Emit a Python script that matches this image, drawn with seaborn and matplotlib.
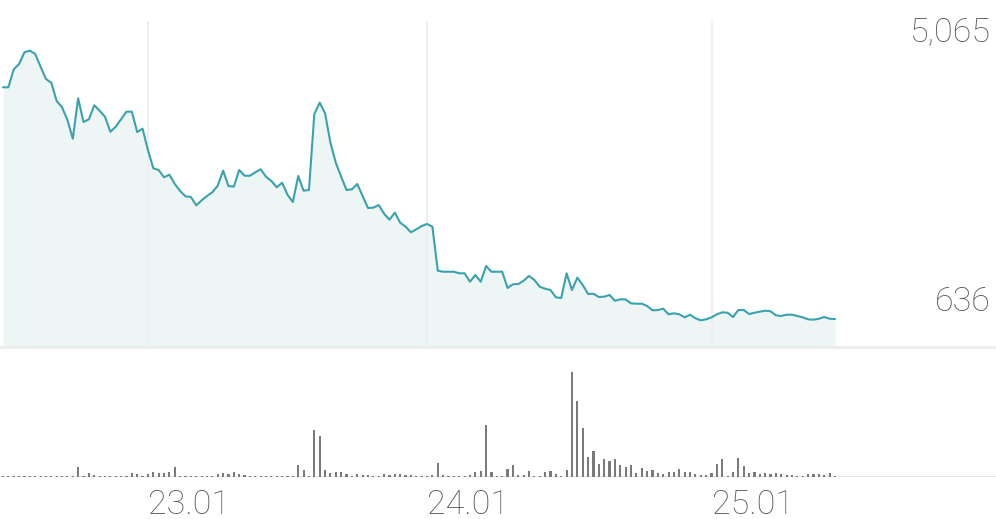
import numpy as np
import pandas as pd
import matplotlib.pyplot as plt
import seaborn as sns

# Plain white style, Roboto text
sns.set_style("white")
plt.rcParams['font.family'] = ['Roboto', 'DejaVu Sans']

# ---- data ----
price = [4464, 4464, 4759, 4847, 5039, 5065, 5011, 4802, 4600, 4539,
         4239, 4135, 3927, 3619, 4283, 3894, 3938, 4168, 4079, 3981,
         3734, 3816, 3938, 4063, 4063, 3729, 3784, 3434, 3133, 3105,
         2985, 3028, 2875, 2760, 2673, 2662, 2525, 2607, 2678, 2739,
         2847, 3094, 2842, 2831, 3105, 3011, 3011, 3067, 3117, 2995,
         2924, 2821, 2896, 2699, 2579, 3007, 2765, 2777, 4025, 4211,
         4037, 3554, 3225, 2995, 2777, 2788, 2875, 2678, 2481, 2486,
         2530, 2387, 2289, 2404, 2239, 2174, 2082, 2131, 2185, 2218,
         2174, 1451, 1434, 1434, 1434, 1408, 1408, 1270, 1380, 1270,
         1528, 1434, 1434, 1434, 1167, 1227, 1232, 1287, 1364, 1298,
         1188, 1155, 1134, 1014, 1002, 1408, 1134, 1336, 1216, 1068,
         1073, 1019, 1024, 1052, 958, 981, 978, 915, 909, 909,
         871, 800, 805, 827, 735, 751, 735, 685, 728, 669,
         636, 652, 685, 735, 767, 761, 690, 805, 805, 739,
         761, 777, 794, 784, 718, 707, 728, 728, 707, 685,
         652, 646, 662, 690, 662, 657]

volume = [0.7, 0.7, 0.7, 0.7, 0.7, 0.7, 0.7, 0.7, 0.7, 0.7,
          0.7, 0.7, 0.7, 0.7, 9.7, 0.7, 3.7, 2.3, 0.7, 0.7,
          0.7, 0.7, 0.7, 0.7, 3.7, 3.3, 0.7, 3.3, 4.7, 4.3,
          3.7, 5.0, 9.7, 1.3, 1.0, 1.0, 1.0, 1.0, 1.0, 1.0,
          2.7, 3.7, 3.0, 4.7, 2.7, 2.0, 0.7, 1.3, 0.7, 1.0,
          1.3, 0.7, 0.7, 0.7, 0.7, 11.7, 7.3, 1.3, 46.7, 40.7,
          6.7, 4.3, 5.3, 5.0, 3.0, 1.3, 3.0, 1.7, 2.0, 1.0,
          0.7, 2.7, 2.0, 2.7, 2.7, 1.7, 1.7, 1.0, 0.7, 1.0,
          2.0, 14.3, 2.0, 1.3, 0.7, 0.7, 0.7, 2.0, 5.3, 6.0,
          52.0, 5.0, 0.7, 0.7, 7.7, 12.0, 2.0, 2.0, 6.0, 1.3,
          1.3, 4.7, 6.0, 2.7, 1.0, 7.0, 105.3, 76.3, 49.0, 20.0,
          25.7, 13.0, 17.7, 16.3, 17.7, 11.7, 9.7, 12.3, 4.3, 8.7,
          6.3, 7.0, 4.3, 3.0, 5.0, 5.3, 8.3, 5.3, 5.3, 3.3,
          2.3, 2.3, 4.3, 13.0, 18.3, 0.7, 4.7, 19.0, 10.7, 4.3,
          4.7, 3.3, 4.0, 3.0, 4.0, 2.7, 2.0, 1.7, 1.3, 1.3,
          2.7, 3.0, 2.7, 2.3, 3.7, 0.7]

day_ticks = [27, 79, 132]          # sample index where each day starts
day_labels = ['23.01', '24.01', '25.01']

df = pd.DataFrame({'idx': np.arange(len(price)), 'price': price, 'volume': volume})

LINE = '#3aa2ac'
FILL = '#edf6f5'
TEXT = '#575757'

# ---- layout (pixel based, 996x519) ----
W, H = 996, 519
fig = plt.figure(figsize=(W / 100, H / 100), dpi=100)
ax_p = fig.add_axes([0, (H - 347) / H, 1, 347 / H])
ax_v = fig.add_axes([0, (H - 477) / H, 1, 127 / H])

pmax, pmin = max(price), min(price)
prange = pmax - pmin
ylo, yhi = pmin - 0.099 * prange, pmax + 0.188 * prange
xlim = (-0.56, 185.0)

# price area + line
ax_p.fill_between(df['idx'], df['price'], ylo, color=FILL, linewidth=0, zorder=1)
sns.lineplot(data=df, x='idx', y='price', color=LINE, linewidth=1.5, ax=ax_p, zorder=3)
for t in day_ticks:
    ax_p.axvline(t, ymax=(347 - 22) / 347, color='#efefef', linewidth=1.5, zorder=2)
ax_p.axhline(ylo, color='#ebebeb', linewidth=2, clip_on=False, zorder=4)
ax_p.set_xlim(*xlim)
ax_p.set_ylim(ylo, yhi)

# max / min labels at right
for val in (pmax, pmin):
    ax_p.annotate(f"{val:,}", xy=(0.995, val), xycoords=('axes fraction', 'data'),
                  xytext=(0, 9), textcoords='offset pixels',
                  ha='right', va='baseline', fontsize=24.5, color=TEXT,
                  fontweight='light')

# volume bars
sns.barplot(data=df, x='idx', y='volume', native_scale=True, width=0.4,
            color='#7a7a7a', saturation=1, errorbar=None, linewidth=0, ax=ax_v, zorder=3)
ax_v.axhline(0, color='#e3e3e3', linewidth=2, zorder=1)
ax_v.set_xlim(*xlim)
ax_v.set_ylim(0, 127)
ax_v.set_xticks(day_ticks)
ax_v.set_xticklabels(day_labels, ha='left', fontsize=24.5, color=TEXT,
                     fontweight='light')
ax_v.tick_params(axis='x', length=0, pad=8.5)

for ax in (ax_p, ax_v):
    ax.set_xlabel('')
    ax.set_ylabel('')
    ax.set_yticks([])
    for s in ax.spines.values():
        s.set_visible(False)
ax_p.set_xticks([])

fig.savefig('out.png', dpi=100)
